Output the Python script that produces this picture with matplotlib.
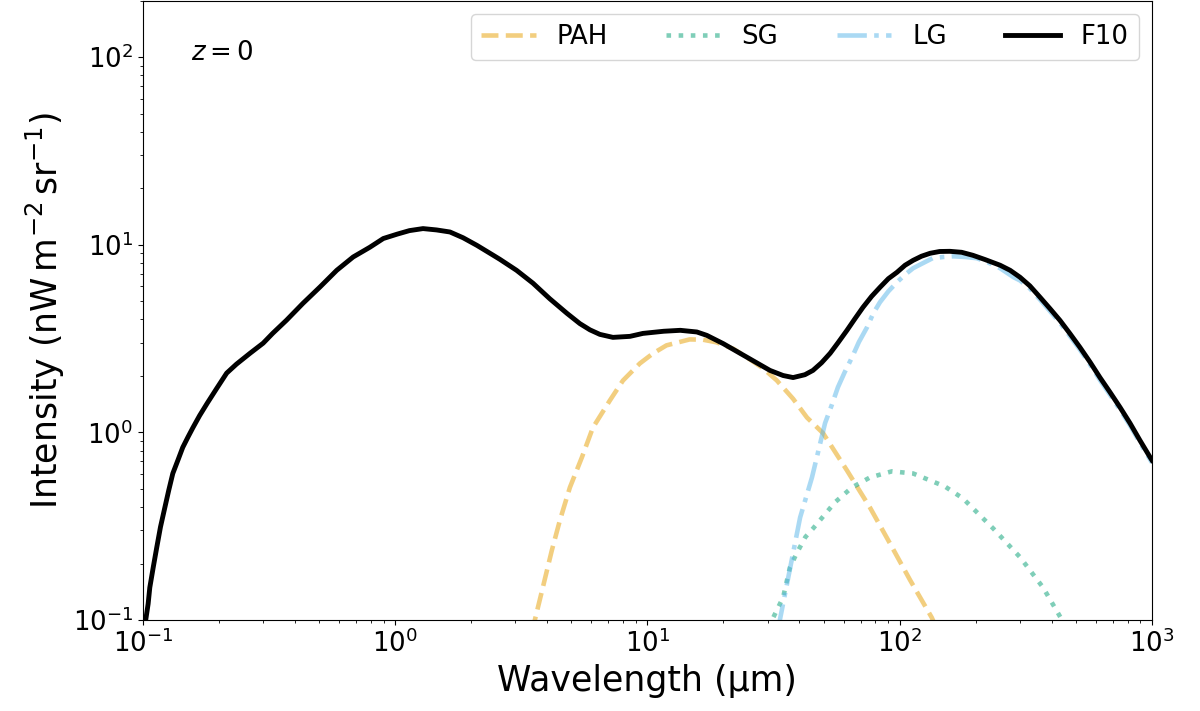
import matplotlib
matplotlib.use('Agg')
import matplotlib.pyplot as plt

# wavelength (micron) / intensity (nW m^-2 sr^-1)
f10_wl = [0.1015, 0.1027, 0.105, 0.1066, 0.110, 0.1136, 0.1175, 0.1223, 0.1267, 0.1315,
          0.138, 0.144, 0.151, 0.158, 0.168, 0.180, 0.196, 0.215, 0.235, 0.266,
          0.300, 0.327, 0.371, 0.431, 0.504, 0.587, 0.682, 0.794, 0.898, 1.02,
          1.14, 1.29, 1.46, 1.65, 1.86, 2.11, 2.45, 2.60, 3.03, 3.52,
          4.10, 4.80, 5.40, 5.92, 6.48, 7.30, 8.53, 9.6, 11.6, 13.5,
          15.7, 17.2, 20.0, 23.3, 27.1, 30.6, 34.5, 37.8, 42.1, 45.3,
          49.0, 53.0, 57.0, 61.8, 66.5, 71.5, 77.4, 83.5, 90.2, 97.5,
          105, 113, 122, 132, 144, 158, 176, 195, 218, 250,
          274, 300, 328, 360, 394, 432, 473, 518, 568, 622,
          681, 747, 818, 896, 982, 1000]
f10_val = [0.085, 0.1, 0.122, 0.149, 0.191, 0.244, 0.313, 0.398, 0.491, 0.604,
           0.715, 0.832, 0.944, 1.06, 1.23, 1.43, 1.71, 2.07, 2.31, 2.64,
           2.99, 3.37, 3.96, 4.87, 5.96, 7.31, 8.61, 9.70, 10.8, 11.4,
           11.9, 12.2, 12.0, 11.7, 10.9, 9.93, 8.79, 8.37, 7.31, 6.24,
           5.16, 4.31, 3.80, 3.52, 3.33, 3.21, 3.25, 3.37, 3.46, 3.5,
           3.43, 3.29, 2.97, 2.64, 2.35, 2.14, 2.01, 1.96, 2.03, 2.14,
           2.35, 2.64, 3.01, 3.50, 4.04, 4.64, 5.31, 5.93, 6.60, 7.13,
           7.78, 8.26, 8.69, 9.01, 9.21, 9.23, 9.12, 8.79, 8.34, 7.78,
           7.31, 6.71, 6.04, 5.25, 4.57, 3.95, 3.36, 2.84, 2.37, 1.96,
           1.64, 1.36, 1.12, 0.906, 0.738, 0.71]

pah_wl = [3.5, 3.58, 3.85, 4.18, 4.50, 4.93, 5.50, 6.08, 7.10, 8.0,
          9.33, 10.5, 11.9, 14.7, 16.6, 18.8, 21.9, 24.8, 28.8, 32.6,
          37.8, 42.9, 49.7, 61.8, 76.2, 91.5, 110, 134, 140]
pah_val = [0.085, 0.1, 0.149, 0.235, 0.34, 0.509, 0.736, 1.06, 1.48, 1.89,
           2.33, 2.63, 2.91, 3.13, 3.12, 3.02, 2.79, 2.51, 2.19, 1.89,
           1.51, 1.2, 0.99, 0.627, 0.398, 0.256, 0.163, 0.103, 0.09]

sg_wl = [30.5, 31.2, 32.5, 34.5, 36.7, 39.0, 42.3, 45.3, 48.3, 55.4,
         64.7, 76.2, 93.1, 113, 151, 178, 235, 300, 370, 440, 460]
sg_val = [0.09, 0.1, 0.112, 0.132, 0.19, 0.226, 0.277, 0.307, 0.34, 0.424,
          0.509, 0.575, 0.62, 0.604, 0.515, 0.445, 0.307, 0.216, 0.149, 0.1, 0.09]

lg_wl = [33.0, 33.5, 40.3, 44.9, 50.6, 53.7, 56.9, 60.6, 64.7, 68.9,
         74.2, 78.5, 83.5, 90.2, 97.5, 105, 113, 124, 135, 149,
         163, 182, 202, 225, 250, 282, 300, 328, 360, 394,
         432, 473, 518, 568, 622, 681, 747, 818, 896, 1000]
lg_val = [0.085, 0.1, 0.352, 0.575, 1.12, 1.39, 1.74, 2.10, 2.51, 3.03,
          3.63, 4.30, 4.94, 5.65, 6.31, 6.93, 7.5, 8.0, 8.48, 8.61,
          8.68, 8.61, 8.48, 8.03, 7.5, 6.73, 6.45, 5.85, 5.1, 4.43,
          3.83, 3.26, 2.76, 2.3, 1.9, 1.59, 1.32, 1.09, 0.88, 0.69]

fig = plt.figure(figsize=(12, 7.11), dpi=100)
ax = fig.add_axes([0.119, 0.128, 0.841, 0.871])

ln1, = ax.plot(pah_wl, pah_val, color='#E69F00', alpha=0.5, lw=3.3, ls='--')
ln2, = ax.plot(sg_wl, sg_val, color='#009E73', alpha=0.5, lw=3.3, ls=':')
ln3, = ax.plot(lg_wl, lg_val, color='#56B4E9', alpha=0.5, lw=3.3, ls='-.')
ln4, = ax.plot(f10_wl, f10_val, color='black', lw=3.5)

ax.set_xscale('log')
ax.set_yscale('log')
ax.set_xlim(0.1, 1000)
ax.set_ylim(0.1, 200)
ax.tick_params(labelsize=18.7)
ax.set_xlabel('Wavelength (μm)', fontsize=25)
ax.set_ylabel(r'Intensity (nW$\,$m$^{-2}\,$sr$^{-1}$)', fontsize=25)

ax.text(0.048, 0.915, r'$z = 0$', transform=ax.transAxes, fontsize=18.7, va='center')

ax.legend([ln1, ln2, ln3, ln4], ['PAH', 'SG', 'LG', 'F10'], ncol=4, loc='upper right',
          fontsize=18.7, handlelength=2.1, columnspacing=2.25)

fig.savefig('out.png')
